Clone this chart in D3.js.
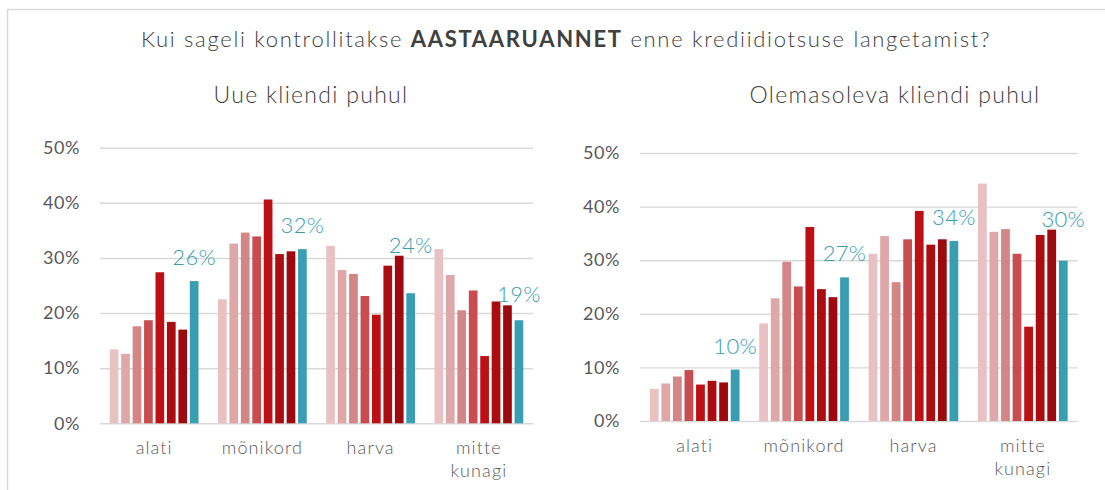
<!DOCTYPE html>
<html>
<head>
<meta charset="utf-8">
<script src="https://cdn.jsdelivr.net/npm/d3@7"></script>
<style>
  body { margin: 0; background: #fff; }
  svg { font-family: "Lato", "Noto Sans", sans-serif; font-weight: 300; }
  .tick text { fill: #595959; }
</style>
</head>
<body>
<svg width="1105" height="490"></svg>
<script>
// categories on the x axis
const categories = ["alati", "mõnikord", "harva", "mitte kunagi"];
// eight bars per category, last one (teal) is the labelled one
const newClient = [
  [13.4, 12.6, 17.6, 18.7, 27.4, 18.4, 17.0, 25.8],
  [22.5, 32.6, 34.6, 33.9, 40.6, 30.7, 31.2, 31.6],
  [32.2, 27.8, 27.1, 23.1, 19.7, 28.6, 30.4, 23.6],
  [31.6, 26.9, 20.5, 24.1, 12.2, 22.1, 21.4, 18.7],
];
const existingClient = [
  [6.0, 7.0, 8.3, 9.5, 6.8, 7.5, 7.2, 9.6],
  [18.2, 22.9, 29.7, 25.1, 36.2, 24.6, 23.1, 26.8],
  [31.2, 34.5, 25.9, 33.9, 39.2, 32.9, 33.9, 33.6],
  [44.3, 35.3, 35.8, 31.2, 17.6, 34.7, 35.7, 29.9],
];
const yTicks = [0, 10, 20, 30, 40, 50];
const colors = ["#e8c1c2", "#dfa7a8", "#d48585", "#c94d50", "#be1014", "#aa0c10", "#9c0a0f", "#3a9eb2"];

const svg = d3.select("svg");

// outer frame
svg.append("rect")
  .attr("x", 7.5).attr("y", 9.5)
  .attr("width", 1200).attr("height", 600)
  .attr("fill", "none").attr("stroke", "#d9d9d9").attr("stroke-width", 1.5);

// main title
const title = svg.append("text")
  .attr("x", 566).attr("y", 47)
  .attr("text-anchor", "middle")
  .attr("font-size", 22)
  .attr("letter-spacing", 1.7)
  .attr("fill", "#404040");
title.append("tspan").text("Kui sageli kontrollitakse ");
title.append("tspan").attr("font-weight", "bold").text("AASTAARUANNET");
title.append("tspan").text(" enne krediidiotsuse langetamist?");

function drawChart(opts) {
  const { data, subtitle, x0, x1, yBottom, yTop, titleX, labelY } = opts;

  svg.append("text")
    .attr("x", titleX).attr("y", 103)
    .attr("text-anchor", "middle")
    .attr("font-size", 23)
    .attr("letter-spacing", 1.3)
    .attr("fill", "#404040")
    .text(subtitle);

  const x = d3.scaleBand()
    .domain(categories)
    .range([x0, x1])
    .paddingInner(0.18)
    .paddingOuter(0.09);

  const xInner = d3.scaleBand()
    .domain(d3.range(colors.length))
    .range([0, x.bandwidth()])
    .paddingInner(0.24);

  const y = d3.scaleLinear().domain([0, 50]).range([yBottom, yTop]);

  // gridlines + tick labels
  const yAxis = d3.axisLeft(y)
    .tickValues(yTicks)
    .tickFormat(d => d + "%")
    .tickSize(-(x1 - x0))
    .tickPadding(20);

  const gy = svg.append("g")
    .attr("transform", `translate(${x0},0)`)
    .call(yAxis);
  gy.select(".domain").remove();
  gy.selectAll(".tick line").attr("stroke", "#d9d9d9").attr("stroke-width", 1.4);
  gy.selectAll(".tick text")
    .attr("font-size", 18)
    .attr("letter-spacing", 0.6)
    .attr("font-family", "Lato, sans-serif")
    .attr("font-weight", 400);

  // bars
  const groups = svg.append("g").selectAll("g")
    .data(data)
    .join("g")
    .attr("transform", (d, i) => `translate(${x(categories[i])},0)`);

  groups.selectAll("rect")
    .data(d => d)
    .join("rect")
    .attr("x", (d, j) => xInner(j))
    .attr("width", xInner.bandwidth())
    .attr("y", d => y(d))
    .attr("height", d => yBottom - y(d))
    .attr("fill", (d, j) => colors[j]);

  // value label above the teal bar, lifted over its neighbour when needed
  const last = colors.length - 1;
  groups.append("text")
    .attr("x", xInner(last) + xInner.bandwidth() / 2)
    .attr("y", d => Math.min(y(d[last]) - 16, y(d[last - 1]) - 3))
    .attr("text-anchor", "middle")
    .attr("font-size", 22)
    .attr("letter-spacing", 0.3)
    .attr("fill", "#3a9eb2")
    .text(d => Math.round(d[last]) + "%");

  // category labels (wrapped on spaces)
  const gx = svg.append("g")
    .attr("transform", `translate(0,${yBottom})`)
    .call(d3.axisBottom(x).tickSize(0).tickFormat(""));
  gx.select(".domain").remove();
  gx.selectAll(".tick text").remove();
  gx.selectAll(".tick").append("text")
    .attr("text-anchor", "middle")
    .attr("font-family", "Lato, sans-serif")
    .attr("font-weight", 300)
    .attr("font-size", 18)
    .attr("letter-spacing", 1.1)
    .attr("fill", "#595959")
    .attr("y", labelY)
    .each(function (d) {
      d.split(" ").forEach((w, k) => {
        d3.select(this).append("tspan").attr("x", 0).attr("dy", k ? 22.5 : 0).text(w);
      });
    });
}

drawChart({
  data: newClient,
  subtitle: "Uue kliendi puhul",
  x0: 100, x1: 533, yBottom: 423.3, yTop: 147.7,
  titleX: 311, labelY: 31
});

drawChart({
  data: existingClient,
  subtitle: "Olemasoleva kliendi puhul",
  x0: 640, x1: 1077.5, yBottom: 421, yTop: 153,
  titleX: 895, labelY: 31
});
</script>
</body>
</html>
